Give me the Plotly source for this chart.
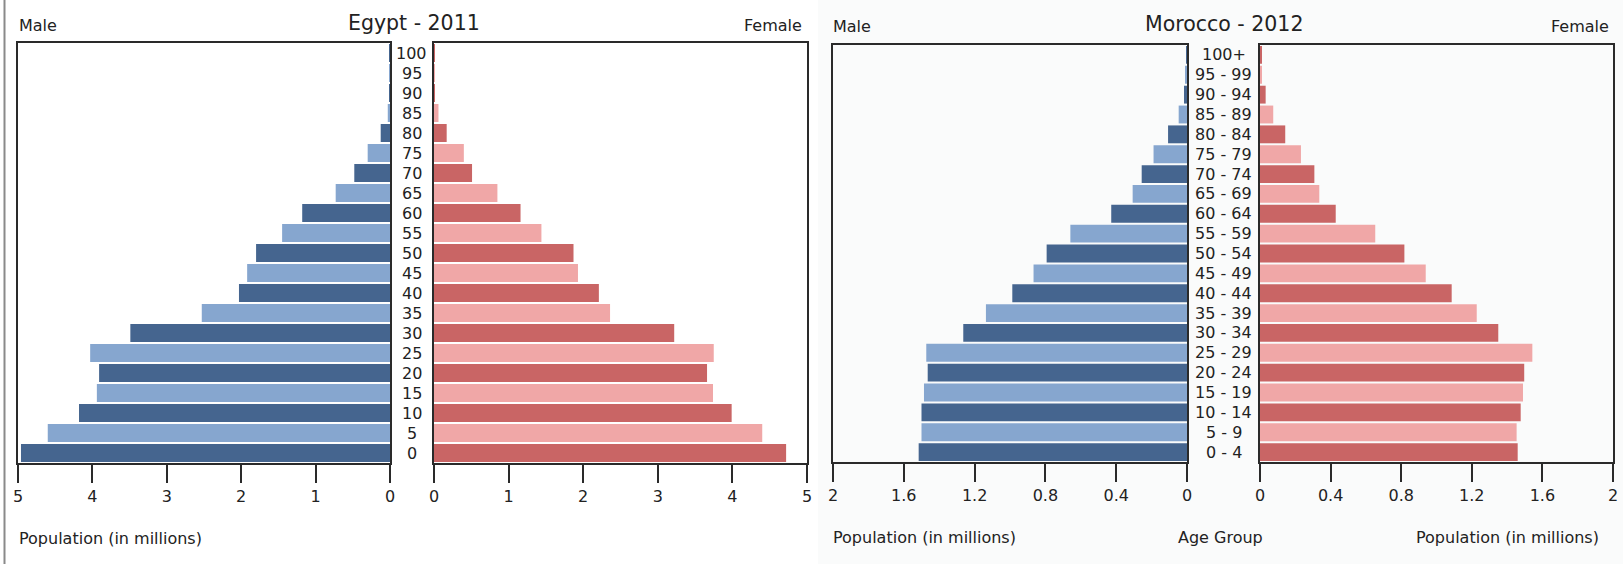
import plotly.graph_objects as go

# ---------------- data ----------------
egypt_ages = ["0", "5", "10", "15", "20", "25", "30", "35", "40", "45", "50",
              "55", "60", "65", "70", "75", "80", "85", "90", "95", "100"]
egypt_male = [4.96, 4.60, 4.18, 3.94, 3.91, 4.03, 3.49, 2.53, 2.03, 1.92, 1.80,
              1.45, 1.18, 0.73, 0.48, 0.30, 0.125, 0.03, 0.012, 0.005, 0.003]
egypt_female = [4.72, 4.40, 3.99, 3.74, 3.66, 3.75, 3.22, 2.36, 2.21, 1.93, 1.87,
                1.44, 1.16, 0.85, 0.51, 0.40, 0.17, 0.06, 0.012, 0.004, 0.002]

morocco_ages = ["0 - 4", "5 - 9", "10 - 14", "15 - 19", "20 - 24", "25 - 29",
                "30 - 34", "35 - 39", "40 - 44", "45 - 49", "50 - 54", "55 - 59",
                "60 - 64", "65 - 69", "70 - 74", "75 - 79", "80 - 84", "85 - 89",
                "90 - 94", "95 - 99", "100+"]
morocco_male = [1.516, 1.50, 1.50, 1.486, 1.465, 1.473, 1.264, 1.136, 0.987, 0.867,
                0.793, 0.659, 0.428, 0.307, 0.256, 0.189, 0.107, 0.047, 0.017, 0.008, 0.004]
morocco_female = [1.46, 1.454, 1.477, 1.49, 1.497, 1.543, 1.35, 1.228, 1.086, 0.939,
                  0.818, 0.653, 0.429, 0.336, 0.308, 0.232, 0.143, 0.075, 0.032, 0.006, 0.006]

egypt_ticks = [0, 1, 2, 3, 4, 5]
egypt_ticktext = ["0", "1", "2", "3", "4", "5"]
morocco_ticks = [0, 0.4, 0.8, 1.2, 1.6, 2]
morocco_ticktext = ["0", "0.4", "0.8", "1.2", "1.6", "2"]

# ---------------- styles ----------------
W, H = 1623, 564
FONT = "DejaVu Sans"
TXT = "#222222"
BLUE_DARK, BLUE_LIGHT = "#45658f", "#86a6cf"
RED_DARK, RED_LIGHT = "#c96565", "#f0a7a7"


def alt(n, a, b):
    return [a if i % 2 == 0 else b for i in range(n)]


def px_x(p):
    return p / W


def px_y(p):
    return 1 - p / H


fig = go.Figure()

panels = [
    dict(ages=egypt_ages, male=egypt_male, female=egypt_female, xm="x", ym="y", xf="x2", yf="y2",
         mx=(18, 390), fx=(434, 807), top=43, bot=463, xmax=5,
         tv=egypt_ticks, tt=egypt_ticktext),
    dict(ages=morocco_ages, male=morocco_male, female=morocco_female, xm="x3", ym="y3", xf="x4", yf="y4",
         mx=(833, 1187), fx=(1260, 1613), top=45, bot=462, xmax=2,
         tv=morocco_ticks, tt=morocco_ticktext),
]

layout_axes = {}
annotations = []

for i, p in enumerate(panels):
    n = len(p["ages"])
    fig.add_trace(go.Bar(y=p["ages"], x=p["male"], orientation="h",
                         xaxis=p["xm"], yaxis=p["ym"],
                         marker=dict(color=alt(n, BLUE_DARK, BLUE_LIGHT), line=dict(width=0)),
                         showlegend=False, hoverinfo="x+y"))
    fig.add_trace(go.Bar(y=p["ages"], x=p["female"], orientation="h",
                         xaxis=p["xf"], yaxis=p["yf"],
                         marker=dict(color=alt(n, RED_DARK, RED_LIGHT), line=dict(width=0)),
                         showlegend=False, hoverinfo="x+y"))

    ydom = [px_y(p["bot"]), px_y(p["top"])]
    common_x = dict(showline=True, mirror=True, linecolor="#2a2a2a", linewidth=1.5,
                    ticks="outside", ticklen=18, tickwidth=1.5, tickcolor="#2a2a2a",
                    showgrid=False, zeroline=False, tickvals=p["tv"], ticktext=p["tt"],
                    tickfont=dict(family=FONT, size=16, color=TXT), fixedrange=True,
                    automargin=False)
    common_y = dict(showline=True, mirror=True, linecolor="#2a2a2a", linewidth=1.5,
                    showticklabels=False, ticks="", showgrid=False, zeroline=False,
                    type="category", categoryorder="array", categoryarray=p["ages"],
                    range=[-0.5, n - 0.5], autorange=False,
                    domain=ydom, fixedrange=True, automargin=False)
    k_m = p["xm"][1:] or ""
    k_f = p["xf"][1:]
    layout_axes["xaxis" + k_m] = dict(common_x, domain=[px_x(p["mx"][0]), px_x(p["mx"][1])],
                                      range=[p["xmax"], 0], autorange=False, anchor=p["ym"])
    layout_axes["yaxis" + k_m] = dict(common_y, anchor=p["xm"])
    layout_axes["xaxis" + k_f] = dict(common_x, domain=[px_x(p["fx"][0]), px_x(p["fx"][1])],
                                      range=[0, p["xmax"]], autorange=False, anchor=p["yf"])
    layout_axes["yaxis" + k_f] = dict(common_y, anchor=p["xf"])

    # centre age labels (placed on the female axis's category scale)
    cx = px_x((p["mx"][1] + p["fx"][0]) / 2)
    for j, a in enumerate(p["ages"]):
        annotations.append(dict(text=a, x=cx, xref="paper", y=j, yref=p["yf"],
                                xanchor="center", yanchor="middle", showarrow=False,
                                font=dict(family=FONT, size=16, color=TXT)))


def txt(t, x, y, anchor="left", size=16):
    annotations.append(dict(text=t, x=px_x(x), y=px_y(y), xref="paper", yref="paper",
                            xanchor=anchor, yanchor="middle", showarrow=False,
                            font=dict(family=FONT, size=size, color=TXT)))


# Egypt texts
txt("Male", 17, 25)
txt("Female", 804, 25, "right")
txt("Egypt - 2011", 414, 23, "center", 20.5)
txt("Population (in millions)", 17, 538)
# Morocco texts
txt("Male", 831, 26)
txt("Female", 1611, 26, "right")
txt("Morocco - 2012", 1224, 24, "center", 20.5)
txt("Population (in millions)", 831, 537)
txt("Age Group", 1220, 537, "center")
txt("Population (in millions)", 1601, 537, "right")

shapes = [
    dict(type="rect", xref="paper", yref="paper", x0=px_x(818), x1=1, y0=0, y1=1,
         fillcolor="#fafbfb", line=dict(width=0), layer="below"),
    dict(type="line", xref="paper", yref="paper", x0=px_x(4.5), x1=px_x(4.5), y0=0, y1=1,
         line=dict(color="#8a8a8a", width=2), layer="above"),
]

fig.update_layout(
    width=W, height=H,
    margin=dict(l=0, r=0, t=0, b=0, autoexpand=False),
    paper_bgcolor="white",
    plot_bgcolor="rgba(0,0,0,0)",
    bargap=0.1,
    annotations=annotations,
    shapes=shapes,
    font=dict(family=FONT, size=16, color=TXT),
    **layout_axes,
)

fig.write_html("out.html", config={"displayModeBar": False},
               post_script="document.body.style.margin='0px';")
